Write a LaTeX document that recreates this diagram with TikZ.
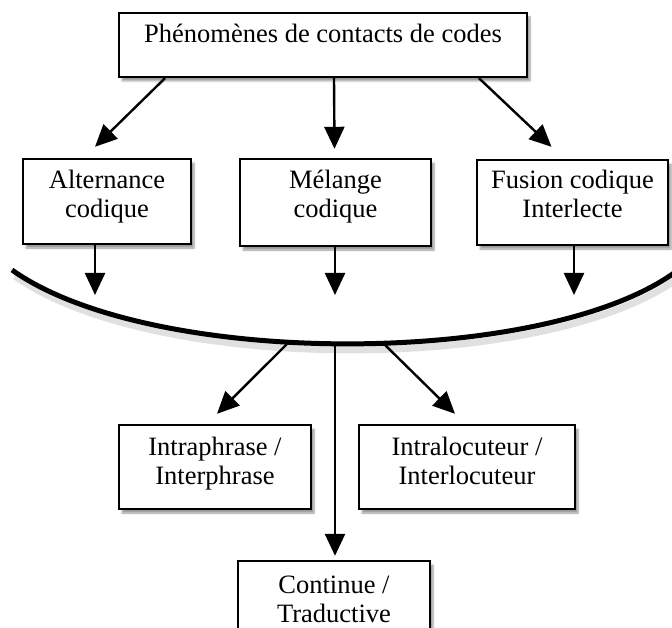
\documentclass[tikz,border=0pt]{standalone}
\usepackage{fontspec}
\setmainfont{Liberation Serif}
\usetikzlibrary{arrows.meta,shadows.blur,calc}
\begin{document}
\begin{tikzpicture}[x=1pt,y=-1pt,
  box/.style={draw=black, line width=2.4pt, fill=white, inner sep=0pt,
    blur shadow={shadow xshift=3pt, shadow yshift=-4pt, shadow blur steps=6, shadow opacity=40}},
  lbl/.style={anchor=base, inner sep=0pt, font=\fontsize{26.5}{29}\selectfont},
  arr/.style={line width=2.4pt, -{Triangle[length=22pt,width=20pt]}},
  arc/.style={line width=5pt},
  arcshadow/.style={line width=7pt, black, opacity=0.12}]
\useasboundingbox (0,0) rectangle (672,628);
\clip (0,0) rectangle (672,628);

% boxes
\node[box, minimum width=408pt, minimum height=64pt] (top) at (323,45) {};
\node[box, minimum width=168pt, minimum height=85pt] (alt) at (107,201.5) {};
\node[box, minimum width=191pt, minimum height=87pt] (mel) at (335.5,202.5) {};
\node[box, minimum width=191pt, minimum height=85pt] (fus) at (572.5,202.5) {};
\node[box, minimum width=192pt, minimum height=84pt] (intra) at (215,467) {};
\node[box, minimum width=216pt, minimum height=84pt] (loc) at (467,467) {};
\node[box, minimum width=192pt, minimum height=90pt] (cont) at (334,606) {};

% texts
\node[lbl] (ttop) at (323,43) {Phénomènes de contacts de codes};
\node[lbl] (talt1) at (107,189) {Alternance};
\node[lbl] (talt2) at (107,218) {codique};
\node[lbl] (tmel1) at (335.5,189) {Mélange};
\node[lbl] (tmel2) at (335.5,218) {codique};
\node[lbl] (tfus1) at (572.5,189) {Fusion codique};
\node[lbl] (tfus2) at (572.5,218) {Interlecte};
\node[lbl] (tintra1) at (215,455) {Intraphrase /};
\node[lbl] (tintra2) at (215,484) {Interphrase};
\node[lbl] (tloc1) at (467,455) {Intralocuteur /};
\node[lbl] (tloc2) at (467,484) {Interlocuteur};
\node[lbl] (tcont1) at (334,593) {Continue /};
\node[lbl] (tcont2) at (334,622) {Traductive};

% the curve
\coordinate (cl) at (12,270);
\coordinate (cr) at (674,273);
\draw[arcshadow] ($(cl)+(3,6)$) .. controls (153,374) and (543,374) .. ($(cr)+(3,6)$);
\draw[arc] (cl) .. controls (150,368) and (540,368) .. (cr);

% arrows from top box
\draw[arr] ([xshift=-158pt]top.south) -- ([xshift=-12pt,yshift=11pt]alt.north);
\draw[arr] ([xshift=11pt]top.south) -- ([xshift=-1pt,yshift=9pt]mel.north);
\draw[arr] ([xshift=156pt]top.south) -- ([xshift=-21pt,yshift=12pt]fus.north);

% arrows from middle boxes to curve
\coordinate (d1) at (95,295);
\coordinate (d2) at (335,295);
\coordinate (d3) at (574,295);
\draw[arr] ([xshift=-12pt]alt.south) -- (d1);
\draw[arr] ([xshift=-0.5pt]mel.south) -- (d2);
\draw[arr] ([xshift=1.5pt]fus.south) -- (d3);

% arrows from curve to bottom boxes
\coordinate (b1) at (287,344);
\coordinate (b2) at (335,344);
\coordinate (b3) at (383,343);
\draw[arr] (b1) -- ([xshift=2pt,yshift=10pt]intra.north);
\draw[arr] (b2) -- ([xshift=1pt,yshift=4pt]cont.north);
\draw[arr] (b3) -- ([xshift=-12pt,yshift=10pt]loc.north);
\end{tikzpicture}
\end{document}
